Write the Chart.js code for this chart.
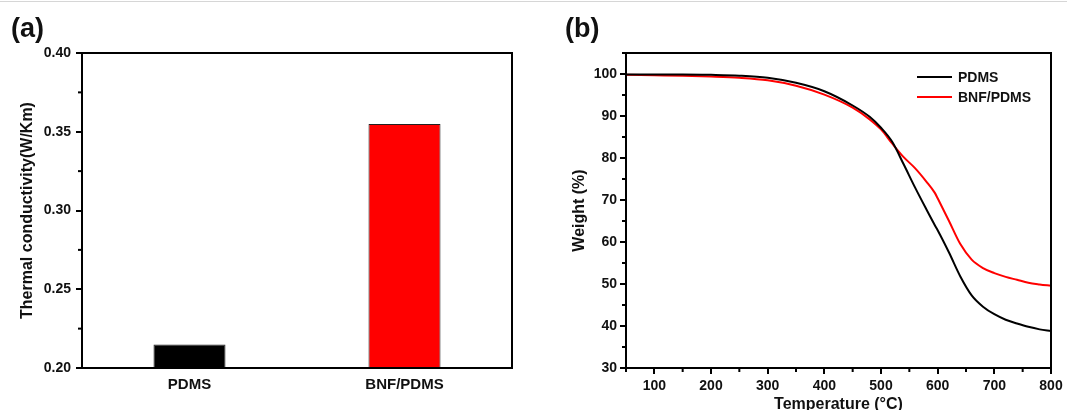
<!DOCTYPE html>
<html>
<head>
<meta charset="utf-8">
<script src="https://cdn.jsdelivr.net/npm/chart.js@4"></script>
<style>
  html, body { margin:0; padding:0; background:#fff; width:1067px; height:410px; overflow:hidden; }
  body { position:relative; font-family:"Liberation Sans", Arial, sans-serif; }
  #topline { position:absolute; left:0; top:1px; width:1067px; height:0; border-top:1px solid #d6d6d6; }
  .panel { position:absolute; font-weight:bold; font-size:27px; line-height:27px; color:#111; }
  #wrapA { position:absolute; left:0; top:0; width:533px; height:410px; }
  #wrapB { position:absolute; left:533px; top:0; width:534px; height:416px; }
</style>
</head>
<body>
<div id="topline"></div>
<div id="wrapA"><canvas id="chartA" width="533" height="410"></canvas></div>
<div id="wrapB"><canvas id="chartB" width="534" height="416"></canvas></div>
<div class="panel" style="left:11px; top:15px;">(a)</div>
<div class="panel" style="left:565px; top:15px;">(b)</div>
<script>
// ---- Data (a): thermal conductivity ----
const materials = ["PDMS", "BNF/PDMS"];
const conductivity = [0.215, 0.355];
const barColors = ["#000000", "#ff0000"];

// ---- Data (b): TGA curves ----
const temperatures = [50, 100, 150, 200, 250, 300, 350, 400, 450, 480, 500, 520, 540, 560, 580, 595, 600, 620, 640, 660, 680, 700, 720, 740, 760, 780, 800];
const pdmsWeight   = [99.9, 99.9, 99.9, 99.8, 99.6, 99.1, 97.9, 95.9, 92.5, 89.8, 87.2, 83.8, 78.5, 73.0, 67.8, 64.0, 62.8, 57.5, 51.8, 47.3, 44.6, 42.8, 41.5, 40.6, 39.8, 39.2, 38.8];
const bnfWeight    = [99.8, 99.7, 99.6, 99.4, 99.1, 98.5, 97.2, 95.1, 92.0, 89.2, 86.8, 83.4, 80.2, 77.6, 74.4, 71.7, 70.4, 65.0, 59.5, 55.8, 53.8, 52.6, 51.7, 51.0, 50.3, 49.9, 49.6];
const seriesLabels = ["PDMS", "BNF/PDMS"];
const lineColors = ["#000000", "#ff0000"];

const FONT = "'Liberation Sans', Arial, sans-serif";
Chart.defaults.font.family = FONT;
Chart.defaults.color = "#111";

const isMajorA = v => Math.round(v * 1000) % 50 === 0;
const isMajorBy = v => Math.round(v) % 10 === 0 && v <= 100;
const isMajorBx = v => Math.round(v) % 100 === 0;

const boxPlugin = {
  id: "box",
  afterDraw(chart) {
    const a = chart.chartArea, ctx = chart.ctx;
    ctx.save();
    ctx.strokeStyle = "#000";
    ctx.lineWidth = 2;
    ctx.strokeRect(a.left, a.top, a.right - a.left, a.bottom - a.top);
    ctx.restore();
  }
};

// short minor ticks, placed by the library's scales
function makeMinorTicks(tests) {
  return {
    id: "minorTicks",
    afterDraw(chart) {
      const ctx = chart.ctx;
      ctx.save();
      ctx.strokeStyle = "#000";
      ctx.lineWidth = 2;
      Object.keys(tests).forEach(id => {
        const s = chart.scales[id], isMajor = tests[id];
        s.ticks.forEach(t => {
          if (isMajor(t.value)) return;
          const p = s.getPixelForValue(t.value);
          ctx.beginPath();
          if (s.isHorizontal()) { ctx.moveTo(p, s.top); ctx.lineTo(p, s.top + 4); }
          else { ctx.moveTo(s.right, p); ctx.lineTo(s.right - 4, p); }
          ctx.stroke();
        });
      });
      ctx.restore();
    }
  };
}

const legendPlugin = {
  id: "insideLegend",
  afterDraw(chart) {
    const a = chart.chartArea, ctx = chart.ctx;
    ctx.save();
    ctx.font = "bold 14px " + FONT;
    ctx.textBaseline = "middle";
    chart.data.datasets.forEach((ds, i) => {
      const y = a.top + 24 + i * 20;
      ctx.strokeStyle = ds.borderColor;
      ctx.lineWidth = 2;
      ctx.beginPath();
      ctx.moveTo(a.right - 134, y);
      ctx.lineTo(a.right - 99, y);
      ctx.stroke();
      ctx.fillStyle = "#111";
      ctx.fillText(ds.label, a.right - 93, y + 1);
    });
    ctx.restore();
  }
};

function tickGrid(isMajor) {
  return {
    display: true, drawOnChartArea: false, drawTicks: true, tickLength: 6, lineWidth: 2, color: "#000",
    tickColor: c => (c.tick && isMajor(c.tick.value)) ? "#000" : "rgba(0,0,0,0)"
  };
}
const axisBorder = { display: true, width: 2, color: "#000" };

new Chart(document.getElementById("chartA"), {
  type: "bar",
  data: {
    labels: materials,
    datasets: [{
      data: conductivity,
      backgroundColor: barColors,
      borderColor: "#222",
      borderWidth: 1,
      categoryPercentage: 1.0,
      barPercentage: 0.335
    }]
  },
  options: {
    responsive: false,
    animation: false,
    layout: { padding: { top: 53, right: 21, left: 0, bottom: 0 } },
    plugins: { legend: { display: false }, tooltip: { enabled: false } },
    scales: {
      x: {
        grid: { display: false },
        border: axisBorder,
        ticks: { font: { size: 15, weight: "bold" }, color: "#111", padding: 0 },
        afterFit(s) { s.height = 42; }
      },
      y: {
        min: 0.2, max: 0.4,
        grid: tickGrid(isMajorA),
        border: axisBorder,
        ticks: {
          stepSize: 0.025,
          font: { size: 14, weight: "bold" }, color: "#111", padding: 5,
          callback(v) { return isMajorA(v) ? v.toFixed(2) : ""; }
        },
        title: { display: true, text: "Thermal conductivity(W/Km)", font: { size: 16, weight: "bold" }, color: "#111", padding: { top: 18.4, bottom: 0 } },
        afterFit(s) { s.width = 82; }
      }
    }
  },
  plugins: [boxPlugin, makeMinorTicks({ y: isMajorA })]
});

new Chart(document.getElementById("chartB"), {
  type: "line",
  data: {
    datasets: [
      { label: seriesLabels[0], data: temperatures.map((t, i) => ({ x: t, y: pdmsWeight[i] })), borderColor: lineColors[0], borderWidth: 2, pointRadius: 0, cubicInterpolationMode: "monotone", fill: false },
      { label: seriesLabels[1], data: temperatures.map((t, i) => ({ x: t, y: bnfWeight[i] })), borderColor: lineColors[1], borderWidth: 2, pointRadius: 0, cubicInterpolationMode: "monotone", fill: false }
    ]
  },
  options: {
    responsive: false,
    animation: false,
    layout: { padding: { top: 53, right: 16, left: 0, bottom: 0 } },
    plugins: { legend: { display: false }, tooltip: { enabled: false } },
    scales: {
      x: {
        type: "linear", min: 50, max: 800,
        grid: tickGrid(isMajorBx),
        border: axisBorder,
        ticks: {
          stepSize: 50, font: { size: 14, weight: "bold" }, color: "#111", padding: 4, maxRotation: 0, autoSkip: false,
          callback(v) { return isMajorBx(v) ? String(v) : ""; }
        },
        title: { display: true, text: "Temperature (°C)", font: { size: 16, weight: "bold" }, color: "#111", padding: { top: 0, bottom: 1.5 } },
        afterFit(s) { s.height = 48; }
      },
      y: {
        min: 30, max: 105,
        grid: tickGrid(isMajorBy),
        border: axisBorder,
        ticks: {
          stepSize: 5, font: { size: 14, weight: "bold" }, color: "#111", padding: 3, autoSkip: false,
          callback(v) { return isMajorBy(v) ? String(v) : ""; }
        },
        title: { display: true, text: "Weight (%)", font: { size: 16, weight: "bold" }, color: "#111", padding: { top: 37.4, bottom: 0 } },
        afterFit(s) { s.width = 93; }
      }
    }
  },
  plugins: [boxPlugin, makeMinorTicks({ x: isMajorBx, y: isMajorBy }), legendPlugin]
});
</script>
</body>
</html>
